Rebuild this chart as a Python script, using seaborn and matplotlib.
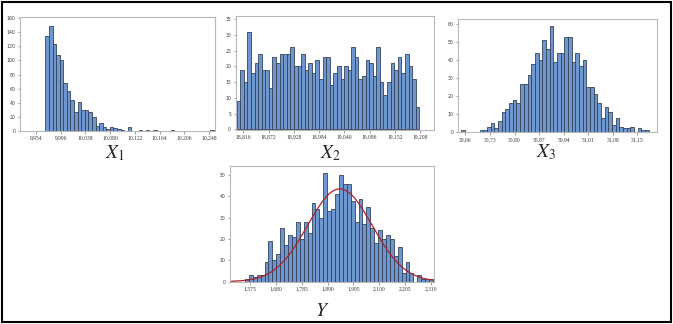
import numpy as np
import pandas as pd
import matplotlib
matplotlib.use("Agg")
import matplotlib.pyplot as plt
from matplotlib.patches import Rectangle
import seaborn as sns

# ---------------- data (bin counts) ----------------
x1_start, x1_width = 9.970, 0.00609
x1_counts = [135, 149, 123, 108, 100, 68, 56, 44, 27, 41, 30, 29, 26, 20, 7, 11,
             5, 2, 5, 4, 3, 1, 0, 5, 0, 0, 1, 0, 1, 0, 1, 0, 0, 0, 0, 1,
             0, 0, 0, 0, 0, 0, 0, 0, 0, 0, 1]
x1_ticks = [9.954, 9.996, 10.038, 10.080, 10.122, 10.164, 10.206, 10.248]

x2_start, x2_width = 18.8009, 0.00795
x2_counts = [9, 19, 15, 31, 18, 21, 24, 19, 19, 13, 23, 21, 24, 24, 24, 26, 20,
             20, 24, 19, 21, 18, 22, 16, 23, 23, 14, 18, 20, 16, 20, 19, 26, 23,
             16, 17, 22, 21, 17, 26, 15, 11, 15, 21, 19, 23, 18, 24, 20, 16, 7]
x2_ticks = [18.816, 18.872, 18.928, 18.984, 19.040, 19.096, 19.152, 19.208]

x3_start, x3_width = 30.6486, 0.01047
x3_counts = [1, 0, 0, 0, 0, 1, 1,
             3, 5, 2, 6, 11, 13, 16, 18, 16, 27, 27, 32, 38, 44, 40, 51, 46, 59,
             39, 44, 44, 53, 53, 39, 44, 37, 40,
             25, 25, 21, 16, 8, 14, 11, 4, 8, 3, 2, 2, 3, 0, 2, 1, 1]
x3_ticks = [30.66, 30.73, 30.80, 30.87, 30.94, 31.01, 31.08, 31.15]

y_start, y_width = 1.5547, 0.0159
y_counts = [1, 3, 2, 3, 3, 9, 19, 10, 13, 25, 17, 22, 21, 28, 20, 28, 23, 37,
            34, 30, 51, 33, 34, 41, 50, 46, 46, 38, 28, 39, 27, 35, 25, 18, 24,
            20, 22, 20, 12, 16, 4, 9, 4, 0, 3, 1, 1, 1]
y_ticks = [1.575, 1.680, 1.785, 1.890, 1.995, 2.100, 2.205, 2.310]
# fitted normal curve on Y
fit_mean, fit_sd, fit_peak = 1.940, 0.131, 43.5

labels = ["$X_1$", "$X_2$", "$X_3$", "$Y$"]

# ---------------- style ----------------
sns.set_style("white")
plt.rcParams["font.family"] = ["DejaVu Sans"]
plt.rcParams["mathtext.fontset"] = "stix"

W, H = 673, 324
fig = plt.figure(figsize=(W / 100, H / 100), dpi=100)

BAR = "#6f97cf"
EDGE = "#34435a"
FRAME = "#b8b8b8"


def px_axes(l, r, t, b):
    return fig.add_axes([l / W, 1 - b / H, (r - l) / W, (b - t) / H])


def draw_hist(ax, start, width, counts, ticks, xlim, ylim, yticks, dec):
    n = len(counts)
    centers = start + width * (np.arange(n) + 0.5)
    df = pd.DataFrame({"x": centers, "w": np.asarray(counts, dtype=float)})
    sns.histplot(data=df, x="x", weights="w", bins=n,
                 binrange=(start, start + n * width), ax=ax,
                 color=BAR, edgecolor=EDGE, linewidth=0.6, alpha=1.0)
    ax.set_xlim(*xlim)
    ax.set_ylim(*ylim)
    ax.set_xticks(ticks)
    ax.set_xticklabels([f"{t:.{dec}f}".replace(".", ",") for t in ticks],
                       fontsize=4.1, family="Liberation Serif", color="#3a3a3a")
    ax.set_yticks(yticks)
    ax.set_yticklabels([str(v) for v in yticks], fontsize=3.3, color="#3a3a3a")
    ax.set_xlabel("")
    ax.set_ylabel("")
    for s in ax.spines.values():
        s.set_color(FRAME)
        s.set_linewidth(0.8)
    ax.tick_params(axis="both", length=1.8, width=0.5, color="#777777", pad=1.5,
                   bottom=True, left=True)


ax1 = px_axes(20, 215, 17, 131)
draw_hist(ax1, x1_start, x1_width, x1_counts, x1_ticks, (9.927, 10.258),
          (-0.5, 162), list(range(0, 161, 20)), 3)

ax2 = px_axes(235.7, 434, 16, 130)
draw_hist(ax2, x2_start, x2_width, x2_counts, x2_ticks, (18.7987, 19.2391),
          (-0.2, 36), list(range(0, 36, 5)), 3)

ax3 = px_axes(458, 657, 19.3, 132.5)
draw_hist(ax3, x3_start, x3_width, x3_counts, x3_ticks, (30.639, 31.206),
          (-0.3, 62.8), list(range(0, 61, 10)), 2)

ax4 = px_axes(230, 434, 165.7, 282)
draw_hist(ax4, y_start, y_width, y_counts, y_ticks, (1.494, 2.322),
          (-0.2, 54.4), list(range(0, 51, 10)), 3)
xs = np.linspace(1.494, 2.322, 300)
curve = pd.DataFrame({"x": xs,
                      "y": fit_peak * np.exp(-0.5 * ((xs - fit_mean) / fit_sd) ** 2)})
sns.lineplot(data=curve, x="x", y="y", ax=ax4, color="#b0202a", linewidth=0.9)
ax4.set_xlabel("")
ax4.set_ylabel("")

# panel captions
for lab, (cx, cy) in zip(labels, [(115, 153), (331, 153), (546, 152), (322, 310)]):
    fig.text(cx / W, 1 - cy / H, lab, fontsize=14, ha="center", va="center")

# outer frame
fig.patches.append(Rectangle((2 / W, 2 / H), (W - 4) / W, (H - 4) / H,
                             transform=fig.transFigure, fill=False,
                             edgecolor="black", linewidth=1.5))

fig.savefig("out.png", dpi=100)
